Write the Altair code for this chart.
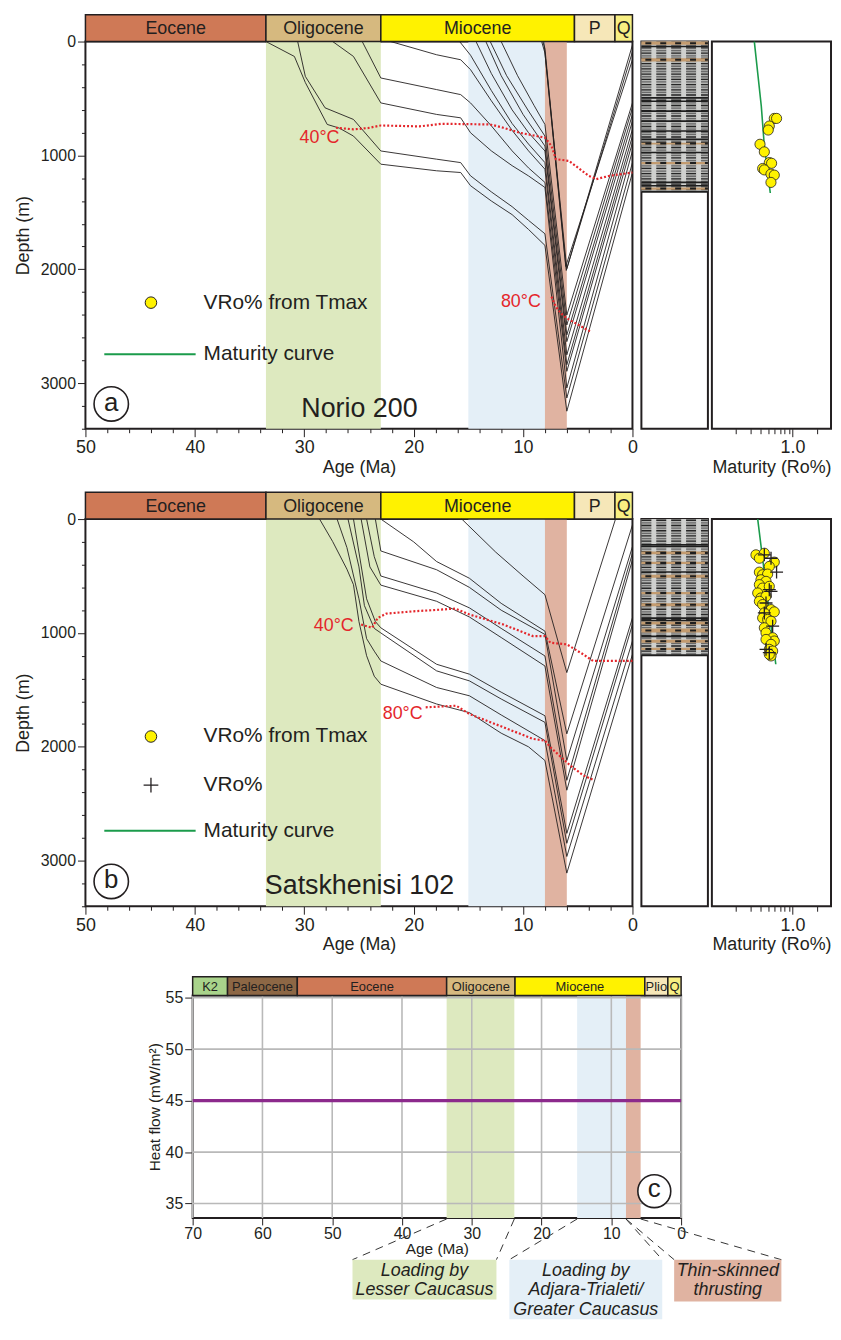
import altair as alt
import pandas as pd

# ======================= DATA =======================
EPOCH_AB_NAME = ["Eocene", "Oligocene", "Miocene", "P", "Q"]
EPOCH_AB_START = [50.0, 33.5, 23.0, 5.3, 1.6]
EPOCH_AB_END = [33.5, 23.0, 5.3, 1.6, 0.0]

EPOCH_C_NAME = ["K2", "Paleocene", "Eocene", "Oligocene", "Miocene", "Plio", "Q"]
EPOCH_C_START = [70.0, 65.0, 55.0, 33.6, 23.8, 5.2, 1.9]
EPOCH_C_END = [65.0, 55.0, 33.6, 23.8, 5.2, 1.9, 0.0]

PHASE_LABEL = ["Loading by\nLesser Caucasus",
               "Loading by\nAdjara-Trialeti/\nGreater Caucasus",
               "Thin-skinned\nthrusting"]
PHASE_AB_START = [33.5, 15.0, 8.0]
PHASE_AB_END = [23.0, 8.0, 6.0]
PHASE_C_START = [33.6, 14.9, 7.9]
PHASE_C_END = [23.9, 7.9, 5.8]

NORIO_BURIAL = [
    [(33.5, 0), (30.9, 131), (29.9, 360), (27.9, 728), (26.8, 760), (25.5, 830), (23.0, 1077),
     (17.9, 1135), (15.7, 1150), (14.8, 1266), (12.9, 1400), (11.0, 1520), (9.5, 1650), (8.0, 1790),
     (6.0, 3246), (0.0, 1150)],
    [(30.6, 0), (29.9, 306), (28.1, 582), (25.5, 684), (23.0, 961), (17.9, 1033), (15.7, 1063),
     (14.8, 1179), (12.9, 1320), (11.0, 1450), (9.5, 1570), (8.0, 1688), (6.0, 3130), (0.0, 1063)],
    [(27.4, 0), (25.5, 131), (23.0, 539), (17.9, 640), (15.7, 670), (14.8, 801), (12.9, 960),
     (11.0, 1090), (9.5, 1180), (8.0, 1281), (6.0, 3042), (0.0, 961)],
    [(24.7, 0), (23.0, 320), (17.9, 422), (15.7, 466), (14.8, 539), (12.9, 740), (11.0, 960),
     (9.5, 1110), (8.0, 1237), (6.0, 2896), (0.0, 888)],
    [(22.1, 0), (17.9, 116), (15.7, 160), (14.8, 247), (12.9, 520), (11.0, 780), (9.5, 960),
     (8.0, 1121), (6.0, 2838), (0.0, 830)],
    [(15.8, 0), (14.8, 120), (12.9, 430), (11.0, 720), (9.5, 900), (8.0, 1063), (6.0, 2751), (0.0, 771)],
    [(14.3, 0), (12.9, 280), (11.0, 600), (9.5, 800), (8.0, 961), (6.0, 2635), (0.0, 699)],
    [(13.4, 0), (12.0, 300), (10.0, 640), (8.0, 917), (6.0, 2576), (0.0, 640)],
    [(13.0, 0), (11.5, 300), (9.5, 610), (8.0, 830), (6.0, 2489), (0.0, 582)],
    [(12.0, 0), (10.5, 300), (9.0, 560), (8.0, 728), (6.0, 2402), (0.0, 539)],
    [(8.3, 0), (8.0, 100), (6.0, 1994), (0.0, 30)],
    [(8.2, 0), (8.0, 60), (6.05, 2010), (0.0, 90)],
    [(8.1, 0), (6.1, 1975), (0.0, 160)],
]
NORIO_ISO_40 = [(27.1, 757), (25.5, 771), (24.2, 760), (23.0, 737), (19.5, 745), (18.5, 735),
                (17.5, 722), (13.0, 728), (11.8, 757), (10.3, 801), (8.0, 844), (7.4, 917),
                (7.0, 1033), (5.8, 1048), (4.0, 1179), (3.3, 1208), (2.1, 1179), (0.0, 1150)]
NORIO_ISO_80 = [(7.4, 2240), (7.0, 2330), (6.5, 2390), (6.0, 2430), (4.9, 2490), (3.8, 2550)]
NORIO_ISO_LABEL = [("40°C", 28.6, 846), ("80°C", 10.2, 2284)]

SATS_BURIAL = [
    [(28.6, 0), (27.4, 198), (26.1, 440), (25.5, 576), (25.0, 900), (24.3, 1200), (23.6, 1380),
     (23.0, 1450), (17.9, 1624), (14.9, 1700), (12.0, 1880), (9.5, 2000), (8.0, 2120),
     (6.0, 3109), (0.0, 1188)],
    [(27.0, 0), (26.1, 250), (25.0, 700), (24.3, 1050), (23.6, 1160), (23.0, 1246), (17.9, 1479),
     (14.9, 1552), (12.0, 1720), (8.0, 1945), (6.0, 2963), (0.0, 1071)],
    [(26.0, 0), (25.0, 420), (24.5, 760), (23.6, 960), (23.0, 1000), (17.9, 1333), (14.9, 1421),
     (12.0, 1580), (8.0, 1785), (6.0, 2847), (0.0, 926)],
    [(25.5, 0), (24.9, 350), (24.3, 700), (23.5, 900), (23.0, 955), (17.9, 1275), (14.9, 1362),
     (12.0, 1520), (8.0, 1727), (6.0, 2760), (0.0, 867)],
    [(24.8, 0), (24.0, 420), (23.0, 580), (17.9, 722), (14.9, 860), (12.0, 1040), (8.0, 1290),
     (6.0, 2381), (0.0, 358)],
    [(24.3, 0), (23.6, 330), (23.0, 500), (17.9, 649), (14.9, 780), (12.0, 960), (8.0, 1202),
     (6.0, 2294), (0.0, 300)],
    [(23.5, 0), (23.0, 280), (17.9, 445), (14.9, 600), (12.0, 800), (8.0, 1013), (6.0, 2120),
     (0.0, 242)],
    [(23.0, 0), (20.0, 200), (17.9, 373), (14.9, 520), (12.0, 740), (8.0, 984), (6.0, 1886),
     (0.0, 52)],
    [(15.6, 0), (12.5, 290), (10.0, 500), (8.0, 664), (6.0, 1348), (1.55, 0)],
]
SATS_ISO_40 = [(24.8, 926), (23.8, 955), (23.3, 870), (22.5, 830), (20.0, 810), (17.5, 795),
               (16.2, 786), (14.9, 838), (11.8, 926), (9.1, 1028), (8.0, 1028), (7.5, 1086),
               (6.0, 1100), (4.5, 1188), (3.6, 1246), (0.0, 1246)]
SATS_ISO_80 = [(18.9, 1653), (16.1, 1639), (14.9, 1712), (11.8, 1828), (9.1, 1930), (8.0, 1945),
               (7.5, 2004), (5.7, 2163), (4.5, 2250), (3.5, 2294)]
SATS_ISO_LABEL = [("40°C", 27.3, 942), ("80°C", 21.0, 1709)]

NORIO_CURVE_DEPTH = [0, 276, 568, 917, 1330]
NORIO_CURVE_RO = [0.336, 0.37, 0.41, 0.447, 0.53]
NORIO_TMAX_RO = [0.594, 0.634, 0.515, 0.50, 0.395, 0.447, 0.515, 0.55, 0.426, 0.447, 0.54, 0.594, 0.54]
NORIO_TMAX_DEPTH = [675, 675, 742, 777, 902, 969, 1063, 1069, 1115, 1127, 1164, 1173, 1237]

SATS_CURVE_DEPTH = [0, 344, 635, 1000, 1275]
SATS_CURVE_RO = [0.37, 0.425, 0.478, 0.554, 0.62]
SATS_TMAX_RO = [0.352, 0.447, 0.388, 0.594, 0.515, 0.388, 0.426, 0.491, 0.406, 0.469, 0.388, 0.426,
                0.515, 0.370, 0.406, 0.469, 0.388, 0.426, 0.541, 0.594, 0.447, 0.426, 0.491, 0.541,
                0.447, 0.469, 0.567, 0.594, 0.469, 0.541, 0.515, 0.567, 0.541, 0.515]
SATS_TMAX_DEPTH = [314, 300, 344, 378, 416, 466, 489, 483, 533, 547, 576, 606,
                   591, 649, 693, 678, 722, 751, 795, 815, 824, 868, 882, 897,
                   955, 999, 1042, 1071, 1057, 1100, 1144, 1159, 1202, 1188]
SATS_VRO_RO = [0.447, 0.541, 0.634, 0.515, 0.541, 0.469, 0.447, 0.567, 0.469, 0.515]
SATS_VRO_DEPTH = [314, 344, 466, 620, 635, 737, 824, 940, 1144, 1173]

NORIO_LITH_BASE = 1320
NORIO_SAND_TOP = [0, 146, 888, 1057, 1281]
NORIO_SAND_BASE = [29, 175, 903, 1077, 1301]
NORIO_LITH_LINES = [44, 495, 524, 611, 699, 786, 859, 975, 1237, 1266]
SATS_LITH_BASE = 1195
SATS_SAND_TOP = [285, 375, 490, 640, 740, 900, 960, 1060, 1130]
SATS_SAND_BASE = [310, 395, 515, 660, 765, 925, 995, 1085, 1150]
SATS_LITH_LINES = [225, 240, 465, 870, 890, 1030]

HF_AGE = [70.0, 0.0]
HF_VALUE = [45.0, 45.0]

AGE_TICKS_AB = list(range(0, 51, 2))
DEPTH_TICKS = list(range(0, 3401, 200))
RO_TICKS = [0.2, 0.3, 0.4, 0.5, 0.6, 0.7, 0.8, 0.9, 1.0, 2.0]
AGE_TICKS_C = [70, 60, 50, 40, 30, 20, 10, 0]
HF_TICKS = [35, 40, 45, 50, 55]

# ======================= STYLE / LAYOUT =======================
FONT = "Liberation Sans"
INK = "#231f20"
RED = "#e4262b"
GREEN = "#1b9b4b"
YELLOW = "#fff200"
PURPLE = "#8c2a8c"
EPOCH_AB_COLOR = ["#cf7956", "#d6b97f", "#fff200", "#f6e7b8", "#f8ef82"]
EPOCH_C_COLOR = ["#a9d38b", "#8d6745", "#cf7956", "#d6b97f", "#fff200", "#f6e7b8", "#f8ef82"]
PHASE_COLOR = ["#dde9bf", "#e4eff7", "#e0b3a1"]
LITH_GRAY = "#b2b3b1"
LITH_LIGHT = "#cfd0ce"
LITH_SAND = "#c39b6f"

W_MAIN, H_MAIN = 551, 390
W_LITH, W_MAT = 67, 120
BAR_H = 27
W_C, H_C = 492, 224
BAR_H_C = 19
C_TOP_EXTENT = 27
C_AGE_DOMAIN = [70, 0]
C_HF_DOMAIN = [33.6, 55.2]
BOX_X0 = [161, 319, 485]
BOX_X1 = [306, 473, 593]
BOX_Y0 = 266
BOX_Y1 = [306, 326, 308]
CROSS = "M-1,0L1,0M0,-1L0,1"


def px_to_age(px):
    return C_AGE_DOMAIN[0] + (C_AGE_DOMAIN[1] - C_AGE_DOMAIN[0]) * px / W_C


def px_to_hf(py):
    return C_HF_DOMAIN[1] - (C_HF_DOMAIN[1] - C_HF_DOMAIN[0]) * py / H_C


def one(**kw):
    return pd.DataFrame({k: [v] for k, v in kw.items()})


def lines_df(lines):
    rows = []
    for i, line in enumerate(lines):
        for j, (a, d) in enumerate(line):
            rows.append({"id": i, "idx": j, "age": a, "depth": d})
    return pd.DataFrame(rows)


epoch_ab = pd.DataFrame({"name": EPOCH_AB_NAME, "start": EPOCH_AB_START, "end": EPOCH_AB_END,
                         "color": EPOCH_AB_COLOR})
epoch_c = pd.DataFrame({"name": EPOCH_C_NAME, "start": EPOCH_C_START, "end": EPOCH_C_END,
                        "color": EPOCH_C_COLOR})
phase_ab = pd.DataFrame({"start": PHASE_AB_START, "end": PHASE_AB_END, "color": PHASE_COLOR})
phase_c = pd.DataFrame({
    "start": PHASE_C_START, "end": PHASE_C_END, "color": PHASE_COLOR, "label": PHASE_LABEL,
    "bx0": [px_to_age(v) for v in BOX_X0], "bx1": [px_to_age(v) for v in BOX_X1],
    "bxm": [px_to_age((a + b) / 2) for a, b in zip(BOX_X0, BOX_X1)],
    "by0": [px_to_hf(BOX_Y0)] * 3, "by1": [px_to_hf(v) for v in BOX_Y1],
    "ytop": [px_to_hf(H_C + 1)] * 3,
})

AGE_AXIS = alt.Axis(values=AGE_TICKS_AB, format="d",
                    labelExpr="datum.value % 10 === 0 ? datum.label : ''",
                    tickSize={"condition": {"test": "datum.value % 10 === 0", "value": 8}, "value": 4},
                    labelFontSize=18, titleFontSize=18, labelPadding=2, titlePadding=2,
                    labelFlush=False, labelOverlap=False, domain=False, grid=False)
DEPTH_AXIS = alt.Axis(values=DEPTH_TICKS, format="d",
                      labelExpr="datum.value % 1000 === 0 ? datum.label : ''",
                      tickSize={"condition": {"test": "datum.value % 1000 === 0", "value": 8}, "value": 4},
                      labelFontSize=16, titleFontSize=18, labelPadding=2, titlePadding=8,
                      labelOverlap=False, domain=False, grid=False)
MAT_AXIS = alt.Axis(values=RO_TICKS, format=".1f",
                    labelExpr="datum.value === 1 ? datum.label : ''",
                    tickSize={"condition": {"test": "datum.value === 1", "value": 8}, "value": 5},
                    labelFontSize=18, titleFontSize=18, labelPadding=2, titlePadding=2,
                    labelFlush=False, labelOverlap=False, domain=False, grid=False)

AGE_SCALE = alt.Scale(domain=[50, 0], nice=False, zero=False)
DEPTH_SCALE = alt.Scale(domain=[0, 3400], reverse=True, nice=False, zero=False)
RO_SCALE = alt.Scale(type="log", domain=[0.1, 3.0], nice=False)


def ax(field):
    return alt.X(f"{field}:Q", scale=AGE_SCALE, axis=AGE_AXIS, title="Age (Ma)")


def dy(field):
    return alt.Y(f"{field}:Q", scale=DEPTH_SCALE, axis=DEPTH_AXIS, title="Depth (m)")


def main_panel(burial, iso40, iso80, iso_labels, name, letter, legend_y, with_cross):
    bands = alt.Chart(phase_ab).mark_rect().encode(
        x=ax("start"), x2="end:Q", y=alt.value(0), y2=alt.value(H_MAIN),
        color=alt.Color("color:N", scale=None))
    bar = alt.Chart(epoch_ab).mark_rect(stroke=INK, strokeWidth=1.5).encode(
        x=ax("start"), x2="end:Q", y=alt.value(-BAR_H), y2=alt.value(0),
        color=alt.Color("color:N", scale=None))
    bar_txt = alt.Chart(epoch_ab).transform_calculate(
        mid="(datum.start + datum.end) / 2").mark_text(fontSize=18, color=INK).encode(
        x=ax("mid"), y=alt.value(-BAR_H / 2 + 1), text="name:N")
    burial_lines = alt.Chart(lines_df(burial)).mark_line(color=INK, strokeWidth=0.9).encode(
        x=ax("age"), y=dy("depth"), detail="id:N", order="idx:Q")
    iso = alt.Chart(lines_df([iso40, iso80])).mark_line(
        color=RED, strokeWidth=2.2, strokeDash=[2, 2]).encode(
        x=ax("age"), y=dy("depth"), detail="id:N", order="idx:Q")
    iso_txt = alt.Chart(pd.DataFrame(iso_labels, columns=["label", "age", "depth"])).mark_text(
        color=RED, fontSize=18).encode(x=ax("age"), y=dy("depth"), text="label:N")

    layers = [bands, bar, bar_txt, burial_lines, iso, iso_txt]
    labels = ["VRo% from Tmax"] + (["VRo%"] if with_cross else []) + ["Maturity curve"]
    for lab, py in zip(labels, legend_y):
        layers.append(alt.Chart(one(t=lab)).mark_text(fontSize=21, align="left", color=INK).encode(
            x=alt.value(119), y=alt.value(py), text="t:N"))
    layers.append(alt.Chart(one(t=0)).mark_point(shape="circle", filled=True, fill=YELLOW, stroke=INK,
                                                 strokeWidth=1, size=135, opacity=1).encode(
        x=alt.value(66), y=alt.value(legend_y[0])))
    if with_cross:
        layers.append(alt.Chart(one(t=0)).mark_point(shape=CROSS, filled=False, stroke=INK,
                                                     strokeWidth=1.3, size=220, opacity=1).encode(
            x=alt.value(66), y=alt.value(legend_y[1])))
    layers.append(alt.Chart(one(t=0)).mark_rule(color=GREEN, strokeWidth=2).encode(
        x=alt.value(19), x2=alt.value(111), y=alt.value(legend_y[-1])))
    layers.append(alt.Chart(one(t=0)).mark_point(shape="circle", filled=True, fill="white", stroke=INK,
                                                 strokeWidth=1.6, size=1200, opacity=1).encode(
        x=alt.value(26), y=alt.value(365)))
    layers.append(alt.Chart(one(t=letter)).mark_text(fontSize=26, color=INK).encode(
        x=alt.value(26), y=alt.value(364), text="t:N"))
    layers.append(alt.Chart(one(t=name)).mark_text(fontSize=27, color=INK).encode(
        x=alt.value(276), y=alt.value(370), text="t:N"))
    return alt.layer(*layers).properties(width=W_MAIN, height=H_MAIN)


def lith_panel(base, sand_top, sand_base, dark_lines):
    ys = alt.Scale(domain=[0, 3400], reverse=True, nice=False, zero=False)
    xs = alt.Scale(domain=[0, 1], nice=False, zero=False)
    ph = alt.Chart(one(t=0)).mark_rect(fill="transparent").encode(
        x=alt.value(0), x2=alt.value(W_LITH), y=alt.value(-BAR_H), y2=alt.value(0))
    body = alt.Chart(one(top=0, base=base)).mark_rect(color=LITH_GRAY).encode(
        x=alt.value(0), x2=alt.value(W_LITH),
        y=alt.Y("top:Q", scale=ys, axis=None), y2="base:Q")
    stripes = alt.Chart(pd.DataFrame({"s": [0.15, 0.375, 0.6, 0.825]})).transform_calculate(
        e="datum.s + 0.075", top="0", base=str(base)).mark_rect(color=LITH_LIGHT).encode(
        x=alt.X("s:Q", scale=xs, axis=None), x2="e:Q",
        y=alt.Y("top:Q", scale=ys, axis=None), y2="base:Q")
    dash_dark = alt.Chart(alt.sequence(10, base, 46, as_="d")).mark_rule(
        color="#262626", strokeWidth=1.4, strokeDash=[10, 5]).encode(
        x=alt.value(0), x2=alt.value(W_LITH), y=alt.Y("d:Q", scale=ys, axis=None))
    dash_gray = alt.Chart(alt.sequence(33, base, 46, as_="d")).mark_rule(
        color="#6a6a6a", strokeWidth=1.3, strokeDash=[10, 5]).encode(
        x=alt.value(0), x2=alt.value(W_LITH), y=alt.Y("d:Q", scale=ys, axis=None))
    sand_df = pd.DataFrame({"top": sand_top, "base": sand_base})
    sand = alt.Chart(sand_df).mark_rect(color=LITH_SAND).encode(
        x=alt.value(0), x2=alt.value(W_LITH), y=alt.Y("top:Q", scale=ys, axis=None), y2="base:Q")
    sand_dash = alt.Chart(sand_df).transform_calculate(mid="(datum.top + datum.base) / 2").mark_rule(
        color="#1e1e1e", strokeWidth=2, strokeDash=[6, 9]).encode(
        x=alt.value(4), x2=alt.value(W_LITH), y=alt.Y("mid:Q", scale=ys, axis=None))
    dark = alt.Chart(pd.DataFrame({"d": dark_lines})).mark_rule(color="#1e1e1e", strokeWidth=1.6).encode(
        x=alt.value(0), x2=alt.value(W_LITH), y=alt.Y("d:Q", scale=ys, axis=None))
    edge = alt.Chart(one(d=base)).mark_rule(color="#1e1e1e", strokeWidth=2).encode(
        x=alt.value(0), x2=alt.value(W_LITH), y=alt.Y("d:Q", scale=ys, axis=None))
    return alt.layer(ph, body, stripes, dash_dark, dash_gray, sand, sand_dash, dark, edge).properties(
        width=W_LITH, height=H_MAIN)


def mat_panel(c_depth, c_ro, t_ro, t_depth, v_ro=None, v_depth=None):
    ys = alt.Scale(domain=[0, 3400], reverse=True, nice=False, zero=False)

    def mx(f):
        return alt.X(f"{f}:Q", scale=RO_SCALE, axis=MAT_AXIS, title="Maturity (Ro%)")

    ph = alt.Chart(one(t=0)).mark_rect(fill="transparent").encode(
        x=alt.value(0), x2=alt.value(W_MAT), y=alt.value(-BAR_H), y2=alt.value(0))
    curve = alt.Chart(pd.DataFrame({"ro": c_ro, "depth": c_depth})).mark_line(
        color=GREEN, strokeWidth=1.6).encode(
        x=mx("ro"), y=alt.Y("depth:Q", scale=ys, axis=None), order="depth:Q")
    pts = alt.Chart(pd.DataFrame({"ro": t_ro, "depth": t_depth})).mark_point(
        shape="circle", filled=True, fill=YELLOW, stroke=INK, strokeWidth=0.8, size=105, opacity=1).encode(
        x=mx("ro"), y=alt.Y("depth:Q", scale=ys, axis=None))
    layers = [ph, curve, pts]
    if v_ro is not None:
        layers.append(alt.Chart(pd.DataFrame({"ro": v_ro, "depth": v_depth})).mark_point(
            shape=CROSS, filled=False, stroke=INK, strokeWidth=1.3, size=170, opacity=1).encode(
            x=mx("ro"), y=alt.Y("depth:Q", scale=ys, axis=None)))
    return alt.layer(*layers).properties(width=W_MAT, height=H_MAIN)


def panel_c():
    xs = alt.Scale(domain=C_AGE_DOMAIN, nice=False, zero=False)
    ys = alt.Scale(domain=C_HF_DOMAIN, nice=False, zero=False)
    x_axis = alt.Axis(values=AGE_TICKS_C, format="d", tickSize=7, labelFontSize=16, titleFontSize=15.5,
                      labelPadding=1, titlePadding=0, labelFlush=False, domain=False, grid=False)
    y_axis = alt.Axis(values=HF_TICKS, format="d", tickSize=8, labelFontSize=16, titleFontSize=15.5,
                      labelPadding=2, titlePadding=3, domain=False, grid=False)

    def cx(f):
        return alt.X(f"{f}:Q", scale=xs, axis=x_axis, title="Age (Ma)")

    def cy(f):
        return alt.Y(f"{f}:Q", scale=ys, axis=y_axis, title="Heat flow (mW/m²)")

    ph = alt.Chart(one(t=0)).mark_rect(fill="transparent").encode(
        x=alt.value(0), x2=alt.value(W_C), y=alt.value(-C_TOP_EXTENT), y2=alt.value(0))
    bands = alt.Chart(phase_c).mark_rect().encode(
        x=cx("start"), x2="end:Q", y=alt.value(0), y2=alt.value(H_C), color=alt.Color("color:N", scale=None))
    vgrid = alt.Chart(pd.DataFrame({"a": AGE_TICKS_C})).mark_rule(color="#b9b9b9", strokeWidth=1.6).encode(
        x=cx("a"), y=alt.value(0), y2=alt.value(H_C))
    hgrid = alt.Chart(pd.DataFrame({"h": HF_TICKS})).mark_rule(color="#b9b9b9", strokeWidth=1.6).encode(
        y=cy("h"), x=alt.value(0), x2=alt.value(W_C))
    hf = alt.Chart(pd.DataFrame({"age": HF_AGE, "hf": HF_VALUE})).mark_line(
        color=PURPLE, strokeWidth=3.2).encode(x=cx("age"), y=cy("hf"))
    bar = alt.Chart(epoch_c).mark_rect(stroke=INK, strokeWidth=1.5).encode(
        x=cx("start"), x2="end:Q", y=alt.value(-BAR_H_C), y2=alt.value(0), color=alt.Color("color:N", scale=None))
    bar_txt = alt.Chart(epoch_c).transform_calculate(
        mid="(datum.start + datum.end) / 2").mark_text(fontSize=13, color=INK).encode(
        x=cx("mid"), y=alt.value(-BAR_H_C / 2 + 1), text="name:N")
    circ = alt.Chart(one(t=0)).mark_point(shape="circle", filled=True, fill="white", stroke=INK,
                                          strokeWidth=1.6, size=1100, opacity=1).encode(
        x=alt.value(465), y=alt.value(197))
    circ_t = alt.Chart(one(t="c")).mark_text(fontSize=26, color=INK).encode(
        x=alt.value(465), y=alt.value(195), text="t:N")
    boxes = alt.Chart(phase_c).mark_rect().encode(
        x=cx("bx0"), x2="bx1:Q", y=cy("by0"), y2="by1:Q", color=alt.Color("color:N", scale=None))
    box_txt = alt.Chart(phase_c).mark_text(
        fontSize=18, fontStyle="italic", color=INK, baseline="top", lineBreak="\n", lineHeight=20, dy=2).encode(
        x=cx("bxm"), y=cy("by0"), text="label:N")
    left = alt.Chart(phase_c).mark_rule(color="#333333", strokeWidth=1, strokeDash=[8, 6]).encode(
        x=cx("start"), y=cy("ytop"), x2="bx0:Q", y2="by0:Q")
    right = alt.Chart(phase_c).mark_rule(color="#333333", strokeWidth=1, strokeDash=[8, 6]).encode(
        x=cx("end"), y=cy("ytop"), x2="bx1:Q", y2="by0:Q")
    return alt.layer(ph, bands, vgrid, hgrid, hf, bar, bar_txt, circ, circ_t, left, right, boxes,
                     box_txt).properties(width=W_C, height=H_C)


main_a = main_panel(NORIO_BURIAL, NORIO_ISO_40, NORIO_ISO_80, NORIO_ISO_LABEL,
                    "Norio 200", "a", [263, 315], False)
main_b = main_panel(SATS_BURIAL, SATS_ISO_40, SATS_ISO_80, SATS_ISO_LABEL,
                    "Satskhenisi 102", "b", [219, 268, 314], True)
lith_a = lith_panel(NORIO_LITH_BASE, NORIO_SAND_TOP, NORIO_SAND_BASE, NORIO_LITH_LINES)
lith_b = lith_panel(SATS_LITH_BASE, SATS_SAND_TOP, SATS_SAND_BASE, SATS_LITH_LINES)
mat_a = mat_panel(NORIO_CURVE_DEPTH, NORIO_CURVE_RO, NORIO_TMAX_RO, NORIO_TMAX_DEPTH)
mat_b = mat_panel(SATS_CURVE_DEPTH, SATS_CURVE_RO, SATS_TMAX_RO, SATS_TMAX_DEPTH,
                  SATS_VRO_RO, SATS_VRO_DEPTH)

spacer = alt.Chart(one(t=0)).mark_rect(fill="transparent").encode(
    x=alt.value(0), x2=alt.value(50), y=alt.value(0), y2=alt.value(1)).properties(
    width=50, height=1, view=alt.ViewBackground(stroke="transparent"))

row_a = alt.hconcat(main_a, lith_a, mat_a, spacing=0)
row_b = alt.hconcat(main_b, lith_b, mat_b, spacing=0)
row_c = alt.hconcat(spacer, panel_c(), spacing=10)

chart = alt.vconcat(row_a, row_b, row_c, spacing=13).properties(
    padding={"left": 5, "top": 0, "right": 0, "bottom": 0}
).configure(font=FONT).configure_view(
    stroke=INK, strokeWidth=2
).configure_axis(
    labelFont=FONT, titleFont=FONT, labelColor=INK, titleColor=INK, tickColor=INK,
    tickWidth=1, titleFontWeight="normal"
).configure_text(font=FONT)

chart.save("out.html", embed_options={"renderer": "svg", "actions": False})
